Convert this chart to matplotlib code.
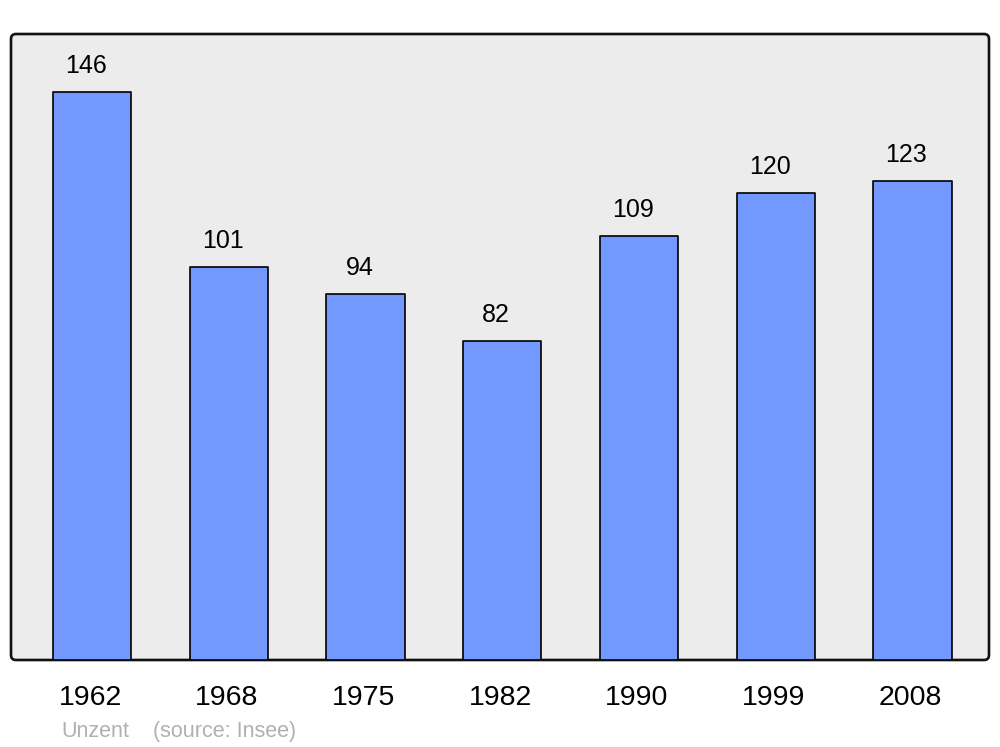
import matplotlib
matplotlib.use("Agg")
import matplotlib.pyplot as plt
from matplotlib.patches import FancyBboxPatch

years = ["1962", "1968", "1975", "1982", "1990", "1999", "2008"]
values = [146, 101, 94, 82, 109, 120, 123]

plt.rcParams['font.family'] = ['Liberation Sans', 'DejaVu Sans']

fig = plt.figure(figsize=(10, 7.47), dpi=100)
l, b, w, h = 11/1000, 87/747, 978/1000, 626/747

frame = FancyBboxPatch((l, b), w, h, boxstyle="round,pad=0,rounding_size=0.005",
                       mutation_aspect=1000/747, transform=fig.transFigure,
                       facecolor='#ececec', edgecolor='#111111', linewidth=1.9, zorder=-5)
fig.patches.append(frame)

ax = fig.add_axes([l, b, w, h], zorder=1)
ax.set_facecolor('none')
ax.patch.set_visible(False)
for s in ax.spines.values():
    s.set_visible(False)

x = list(range(len(years)))
ax.bar(x, values, width=0.572, color='#7399ff', edgecolor='black', linewidth=1.2,
       joinstyle='round', zorder=2)
ax.set_xlim(-0.593, 6.56)
ax.set_ylim(0, 160.9)
ax.set_xticks([])
ax.set_yticks([])

for xi, v in zip(x, values):
    ax.annotate(str(v), (xi, v), xytext=(-6, 19), textcoords='offset pixels',
                ha='center', va='baseline', fontsize=18, color='black')
    ax.annotate(years[xi], (xi, 0), xytext=(-2, -45), textcoords='offset pixels',
                ha='center', va='baseline', fontsize=20.5, color='black',
                annotation_clip=False)

fig.text(61/1000, 1 - 737/747, "Unzent", fontsize=15.5, color='#b0b0b0', ha='left', va='baseline')
fig.text(153/1000, 1 - 737/747, "(source: Insee)", fontsize=15.5, color='#b0b0b0', ha='left', va='baseline')

fig.savefig("out.png", dpi=100)
